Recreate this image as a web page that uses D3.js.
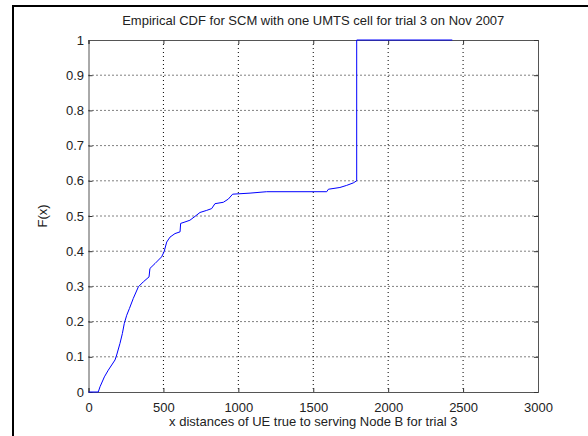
<!DOCTYPE html>
<html><head><meta charset="utf-8">
<script src="https://cdn.jsdelivr.net/npm/d3@7"></script>
<style>body{margin:0;background:#fff}svg{display:block}text{font-family:"Liberation Sans",Arial,sans-serif}</style>
</head><body>
<svg id="c" width="588" height="436"></svg>
<script>
const title = "Empirical CDF for SCM with one UMTS cell for trial 3 on Nov 2007";
const xLabel = "x distances of UE true to serving Node B for trial 3";
const yLabel = "F(x)";
const xTicks = [0,500,1000,1500,2000,2500,3000];
const yTicks = [0,0.1,0.2,0.3,0.4,0.5,0.6,0.7,0.8,0.9,1];
const xVals = [0,65,77,106,132,177,188,210,226,239,255,273,299,333,366,404,410,444,488,504,522,544,577,611,615,644,677,711,744,789,822,844,900,933,962,1078,1189,1590,1601,1678,1723,1767,1790,1790,2428];
const fVals = [0,0,0.015,0.043,0.062,0.091,0.105,0.138,0.166,0.195,0.218,0.237,0.266,0.299,0.313,0.327,0.351,0.365,0.384,0.398,0.426,0.44,0.45,0.455,0.479,0.483,0.488,0.499,0.51,0.516,0.521,0.535,0.539,0.548,0.562,0.565,0.569,0.569,0.576,0.581,0.587,0.594,0.6,1,1];

const svg = d3.select("#c");
const L=88.5,R=538,T=40,B=392;
const x = d3.scaleLinear().domain([0,3000]).range([L,R]);
const y = d3.scaleLinear().domain([0,1]).range([B,T]);
const FS = 13;

// outer frame
svg.append("rect").attr("x",13).attr("y",6).attr("width",600).attr("height",460)
  .attr("fill","none").attr("stroke","#000").attr("stroke-width",2);

// grid
const g = svg.append("g");
g.selectAll(".gx").data(xTicks.slice(1,-1)).join("line")
  .attr("x1",d=>x(d)).attr("x2",d=>x(d)).attr("y1",T).attr("y2",B)
  .attr("stroke","#000").attr("stroke-width",1).attr("stroke-dasharray","1,3");
g.selectAll(".gy").data(yTicks.slice(1,-1)).join("line")
  .attr("y1",d=>y(d)).attr("y2",d=>y(d)).attr("x1",L).attr("x2",R)
  .attr("stroke","#000").attr("stroke-width",1).attr("stroke-dasharray","1,3");

// axes
const ax = d3.axisBottom(x).tickValues(xTicks).tickSize(-4).tickPadding(11).tickFormat(d3.format("d"));
svg.append("g").attr("transform",`translate(0,${B})`).call(ax);
const ay = d3.axisLeft(y).tickValues(yTicks).tickSize(-4).tickPadding(4.5).tickFormat(d=>d===0||d===1?String(d):d.toFixed(1));
svg.append("g").attr("transform",`translate(${L},0)`).call(ay);
const axTop = d3.axisTop(x).tickValues(xTicks).tickSize(-4).tickFormat("");
svg.append("g").attr("transform",`translate(0,${T})`).call(axTop);
const ayR = d3.axisRight(y).tickValues(yTicks).tickSize(-4).tickFormat("");
svg.append("g").attr("transform",`translate(${R},0)`).call(ayR);
svg.selectAll(".domain").attr("stroke","#555");
svg.selectAll(".tick line").attr("stroke","#333");
svg.selectAll(".tick text").attr("font-size",FS).attr("fill","#222").style("font-family",'"Liberation Sans",Arial,sans-serif');

// curve (on top of axes)
const line = d3.line().x(d=>x(d[0])).y(d=>y(d[1]));
svg.append("path").datum(xVals.map((v,i)=>[v,fVals[i]]))
  .attr("d",line).attr("fill","none").attr("stroke","#0000ff").attr("stroke-width",1);

svg.append("text").attr("x",(L+R)/2).attr("y",25).attr("text-anchor","middle")
  .attr("font-size",FS).attr("fill","#222").text(title);
svg.append("text").attr("x",(L+R)/2).attr("y",426).attr("text-anchor","middle")
  .attr("font-size",FS).attr("fill","#222").text(xLabel);
svg.append("text").attr("transform",`translate(47,${(T+B)/2}) rotate(-90)`).attr("text-anchor","middle")
  .attr("font-size",FS).attr("fill","#222").text(yLabel);
</script>
</body></html>
